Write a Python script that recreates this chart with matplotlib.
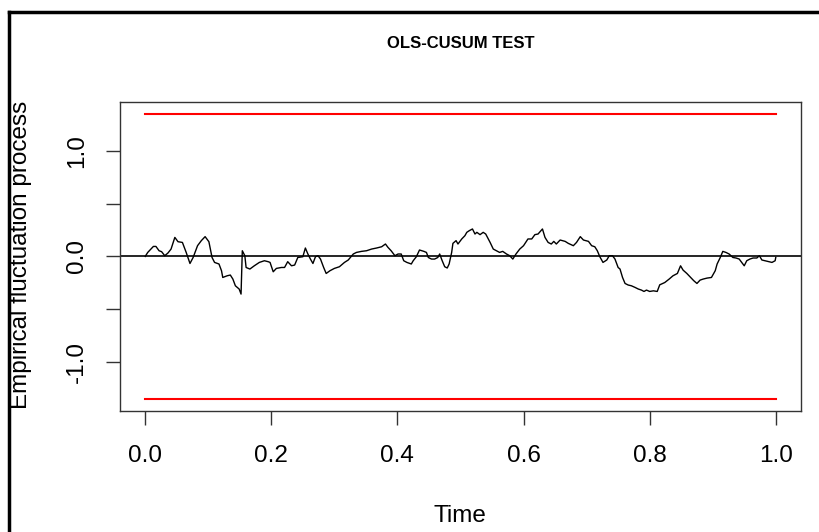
import matplotlib
matplotlib.use("Agg")
import matplotlib.pyplot as plt
from matplotlib.lines import Line2D

plt.rcParams['font.family'] = ['Liberation Sans', 'DejaVu Sans']

# Empirical fluctuation process (OLS-based CUSUM)
time = [0.000, 0.004, 0.013, 0.017, 0.022, 0.026, 0.031, 0.036, 0.041, 0.047,
        0.052, 0.059, 0.065, 0.071, 0.076, 0.083, 0.089, 0.095, 0.101, 0.106,
        0.110, 0.117, 0.121, 0.123, 0.130, 0.135, 0.139, 0.143, 0.149, 0.152,
        0.154, 0.158, 0.160, 0.166, 0.173, 0.181, 0.189, 0.195, 0.198, 0.203,
        0.208, 0.216, 0.221, 0.226, 0.232, 0.237, 0.242, 0.250, 0.254, 0.258,
        0.262, 0.266, 0.270, 0.274, 0.278, 0.283, 0.287, 0.293, 0.300, 0.308,
        0.316, 0.322, 0.330, 0.335, 0.343, 0.351, 0.359, 0.367, 0.375, 0.381,
        0.385, 0.390, 0.396, 0.401, 0.406, 0.410, 0.415, 0.422, 0.425, 0.430,
        0.435, 0.442, 0.446, 0.449, 0.454, 0.459, 0.464, 0.467, 0.471, 0.475,
        0.479, 0.482, 0.486, 0.488, 0.493, 0.496, 0.502, 0.507, 0.510, 0.514,
        0.519, 0.523, 0.526, 0.531, 0.536, 0.540, 0.547, 0.552, 0.557, 0.562,
        0.567, 0.573, 0.578, 0.583, 0.588, 0.594, 0.600, 0.607, 0.613, 0.618,
        0.623, 0.630, 0.634, 0.639, 0.644, 0.648, 0.652, 0.658, 0.666, 0.671,
        0.679, 0.684, 0.690, 0.695, 0.703, 0.708, 0.713, 0.717, 0.721, 0.726,
        0.732, 0.736, 0.741, 0.745, 0.750, 0.753, 0.757, 0.761, 0.766, 0.771,
        0.777, 0.782, 0.787, 0.791, 0.795, 0.800, 0.806, 0.812, 0.816, 0.824,
        0.831, 0.837, 0.844, 0.849, 0.853, 0.859, 0.865, 0.870, 0.875, 0.880,
        0.885, 0.891, 0.898, 0.904, 0.907, 0.912, 0.916, 0.921, 0.926, 0.932,
        0.937, 0.942, 0.946, 0.950, 0.954, 0.959, 0.964, 0.970, 0.974, 0.978,
        0.983, 0.988, 0.994, 0.999, 1.000]

process = [0.000, 0.038, 0.095, 0.095, 0.054, 0.045, 0.007, 0.032, 0.070, 0.181,
           0.140, 0.133, 0.038, -0.067, -0.010, 0.102, 0.150, 0.188, 0.140, -0.010,
           -0.057, -0.072, -0.136, -0.200, -0.184, -0.177, -0.215, -0.279, -0.310, -0.358,
           0.054, 0.007, -0.105, -0.120, -0.089, -0.057, -0.041, -0.050, -0.057, -0.146,
           -0.114, -0.105, -0.105, -0.050, -0.089, -0.082, -0.010, -0.003, 0.080, 0.023,
           -0.025, -0.067, -0.003, 0.007, -0.025, -0.105, -0.162, -0.136, -0.114, -0.098,
           -0.057, -0.034, 0.023, 0.038, 0.048, 0.054, 0.070, 0.080, 0.092, 0.118,
           0.086, 0.054, 0.007, 0.023, 0.023, -0.041, -0.057, -0.072, -0.041, -0.003,
           0.061, 0.048, 0.038, -0.010, -0.025, -0.025, -0.010, 0.023, -0.041, -0.098,
           -0.110, -0.072, 0.038, 0.124, 0.150, 0.118, 0.166, 0.197, 0.229, 0.245,
           0.261, 0.213, 0.229, 0.207, 0.229, 0.213, 0.133, 0.070, 0.054, 0.038,
           0.048, 0.023, 0.007, -0.025, 0.023, 0.070, 0.102, 0.166, 0.166, 0.207,
           0.213, 0.261, 0.181, 0.133, 0.118, 0.143, 0.118, 0.156, 0.143, 0.124,
           0.102, 0.133, 0.188, 0.156, 0.143, 0.102, 0.092, 0.054, -0.003, -0.057,
           -0.034, 0.007, 0.007, -0.025, -0.105, -0.120, -0.200, -0.257, -0.272, -0.279,
           -0.295, -0.310, -0.320, -0.333, -0.320, -0.333, -0.327, -0.333, -0.270, -0.248,
           -0.215, -0.184, -0.162, -0.089, -0.130, -0.162, -0.200, -0.231, -0.257, -0.225,
           -0.215, -0.206, -0.200, -0.136, -0.072, -0.010, 0.048, 0.038, 0.023, -0.010,
           -0.015, -0.025, -0.057, -0.089, -0.041, -0.025, -0.015, -0.015, 0.007, -0.034,
           -0.041, -0.048, -0.057, -0.041, -0.010]

# 5% critical boundary of the OLS-CUSUM test
boundary = 1.358
y_ticks = [-1.0, -0.5, 0.0, 0.5, 1.0]
y_tick_labels = ['-1.0', '', '0.0', '', '1.0']
x_ticks = [0.0, 0.2, 0.4, 0.6, 0.8, 1.0]
x_tick_labels = ['0.0', '0.2', '0.4', '0.6', '0.8', '1.0']

fig = plt.figure(figsize=(8.19, 5.32), dpi=100)
ax = fig.add_axes([0.1465, 0.228, 0.8315, 0.580])

ax.plot(time, process, color='black', lw=1.0)
ax.plot([0, 1], [boundary, boundary], color='red', lw=1.5)
ax.plot([0, 1], [-boundary, -boundary], color='red', lw=1.5)
ax.axhline(0, color='black', lw=1.2)

ax.set_xlim(-0.04, 1.04)
ax.set_ylim(-boundary * 1.08, boundary * 1.08)

ax.set_xticks(x_ticks)
ax.set_xticklabels(x_tick_labels)
ax.set_yticks(y_ticks)
ax.set_yticklabels(y_tick_labels, rotation=90, va='center')
ax.tick_params(axis='both', length=10, width=1, colors='#333333',
               labelsize=17.5, labelcolor='black')
ax.tick_params(axis='x', pad=15)
ax.tick_params(axis='y', pad=13)
for sp in ax.spines.values():
    sp.set_color('#333333')
    sp.set_linewidth(1)

# labels and title placed like the R base plot
fig.text(0.562, 0.919, 'OLS-CUSUM TEST', ha='center', va='center',
         fontsize=12, fontweight='bold')
fig.text(0.562, 0.030, 'Time', ha='center', va='center', fontsize=17.5)
fig.text(0.026, 0.52, 'Empirical fluctuation process', ha='center', va='center',
         rotation=90, fontsize=17.5)

# black frame of the screenshot (left and top only)
fig.add_artist(Line2D([0.011, 0.011], [0.0, 0.977], transform=fig.transFigure,
                      color='black', lw=2.5))
fig.add_artist(Line2D([0.011, 1.0], [0.977, 0.977], transform=fig.transFigure,
                      color='black', lw=2.5))

fig.savefig('out.png', dpi=100)
